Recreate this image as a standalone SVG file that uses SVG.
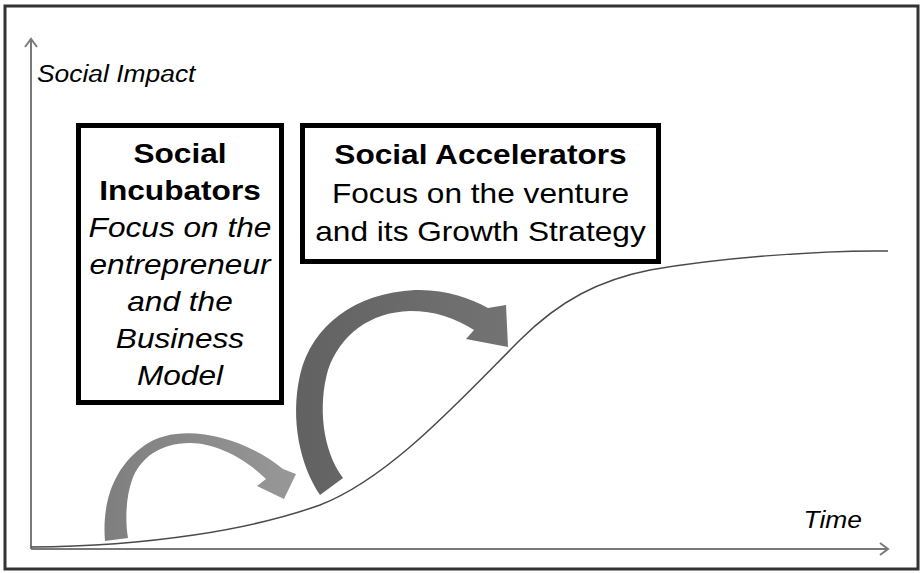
<svg xmlns="http://www.w3.org/2000/svg" width="923" height="573" viewBox="0 0 923 573">
  <style>
    .frame { fill: #ffffff; stroke: #333333; stroke-width: 3; }
    .axis { fill: none; stroke: #7a7a7a; stroke-width: 2; }
    .curve { fill: none; stroke: #4a4a4a; stroke-width: 1.5; }
    .box { fill: #ffffff; stroke: #000000; stroke-width: 5; }
    .t { font-family: "Liberation Sans", Arial, Helvetica, sans-serif; font-size: 28px; fill: #000000; text-anchor: middle; }
    .b { font-weight: bold; }
    .i { font-style: italic; }
    .lbl { font-family: "Liberation Sans", Arial, Helvetica, sans-serif; font-size: 24px; font-style: italic; fill: #000000; }
  </style>
  <defs>
    <linearGradient id="gSmall" x1="100" y1="0" x2="300" y2="0" gradientUnits="userSpaceOnUse">
      <stop offset="0" stop-color="#7e7e7e"/>
      <stop offset="1" stop-color="#989898"/>
    </linearGradient>
    <linearGradient id="gBig" x1="290" y1="0" x2="510" y2="0" gradientUnits="userSpaceOnUse">
      <stop offset="0" stop-color="#616161"/>
      <stop offset="1" stop-color="#737373"/>
    </linearGradient>
  </defs>

  <!-- outer frame -->
  <rect id="frame" class="frame" x="5" y="6" width="913" height="563"/>

  <!-- axes, growth curve and jump arrows -->
  <g id="connectors">
    <path class="axis" d="M31,549 V39 M25,47 L31,39 L37,47"/>
    <path class="axis" d="M31,549 H888 M880,543 L888,549 L880,555"/>
    <path class="curve" d="M31,547 C150,546 250,530 320,505 C390,478 460,400 520,340 C560,300 600,280 650,270 C720,258 820,250 888,251"/>
    <path id="arrow-incubator" fill="url(#gSmall)" d="M105,541 C102,505 112,468 145,445 C178,422 240,434 283,469 L296,474 L284,499 L257,486 L266,479 C245,458 215,443 190,443 C160,443 140,458 132,480 C126,497 125,520 128,538 Z"/>
    <path id="arrow-accelerator" fill="url(#gBig)" d="M320,495 C300,465 290,420 300,375 C312,325 355,293 415,290 C445,289 470,298 488,308 L506,305 L508,347 L466,339 L474,330 C455,318 435,311 410,311 C370,312 340,335 328,370 C318,405 322,450 343,478 Z"/>
  </g>

  <!-- axis labels -->
  <g id="label-y">
    <text class="lbl" transform="translate(37,82) scale(1.1,1)">Social Impact</text>
  </g>
  <g id="label-x">
    <text class="lbl" text-anchor="end" transform="translate(862,528) scale(1.1,1)">Time</text>
  </g>

  <!-- Social Incubators box -->
  <g id="incubators">
    <rect class="box" x="78.5" y="125.5" width="203" height="277"/>
    <g transform="translate(180,0) scale(1.13,1)">
      <text class="t b" x="0" y="163">Social</text>
      <text class="t b" x="0" y="200">Incubators</text>
      <text class="t i" x="0" y="237">Focus on the</text>
      <text class="t i" x="0" y="274">entrepreneur</text>
      <text class="t i" x="0" y="311">and the</text>
      <text class="t i" x="0" y="348">Business</text>
      <text class="t i" x="0" y="385">Model</text>
    </g>
  </g>

  <!-- Social Accelerators box -->
  <g id="accelerators">
    <rect class="box" x="302.5" y="125.5" width="356" height="136"/>
    <g transform="translate(480.5,0) scale(1.13,1)">
      <text class="t b" x="0" y="164">Social Accelerators</text>
      <text class="t" x="0" y="203">Focus on the venture</text>
      <text class="t" x="0" y="241">and its Growth Strategy</text>
    </g>
  </g>
</svg>
